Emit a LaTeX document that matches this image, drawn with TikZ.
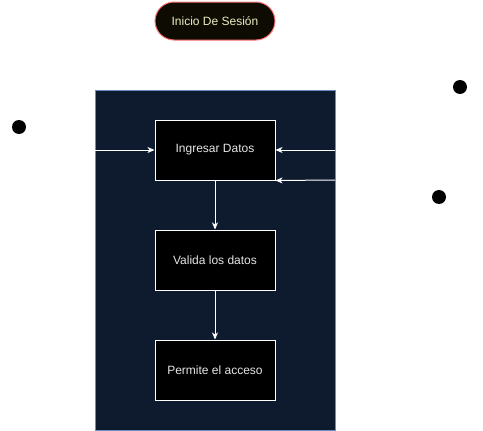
\documentclass[tikz,border=0pt]{standalone}
\usepackage{fontspec}
\setmainfont{Liberation Sans}
\usetikzlibrary{arrows.meta}
\definecolor{contfill}{HTML}{0E1A2E}
\definecolor{contborder}{HTML}{6C8EBF}
\definecolor{pillfill}{HTML}{0D0B02}
\definecolor{pillborder}{HTML}{FF7575}
\definecolor{pilltext}{HTML}{EDEDC2}
\definecolor{boxtext}{HTML}{E6E6E6}
\begin{document}
\begin{tikzpicture}[x=1pt,y=-1pt,
  procbox/.style={draw=white, fill=black, line width=1pt, minimum width=120pt, minimum height=60pt, inner sep=0pt, text=boxtext, font=\fontsize{12}{14}\selectfont},
  pill/.style={draw=pillborder, fill=pillfill, line width=1pt, rounded corners=19pt, minimum width=120pt, minimum height=38pt, inner sep=0pt, text=pilltext, font=\fontsize{12}{14}\selectfont},
  flow/.style={draw=white, line width=1pt, -{Stealth[length=7pt,width=6pt,inset=2pt]}},
  dotmark/.style={circle, fill=black, minimum size=14pt, inner sep=0pt}
]
\useasboundingbox (0,0) rectangle (483,431);
\node[draw=contborder, fill=contfill, line width=1pt, minimum width=240pt, minimum height=340pt, inner sep=0pt] (cont) at (215,260) {};
\node[pill] (inicio) at (215,21) {Inicio De Sesión};
\node[procbox] (ingresar) at (215,150) {Ingresar Datos};
\node[procbox] (valida) at (215,260) {Valida los datos};
\node[procbox] (permite) at (215,370) {Permite el acceso};
\node[dotmark] (d1) at (19,127) {};
\node[dotmark] (d2) at (460,87) {};
\node[dotmark] (d3) at (439,197) {};
\coordinate (inL) at (95,150);
\coordinate (inR) at (335,150);
\coordinate (inR2) at (335,180);
\draw[flow] (inL) -- (ingresar.west);
\draw[flow] (inR) -- (ingresar.east);
\draw[flow] (inR2) -- (ingresar.south east);
\draw[flow] (ingresar.south) -- (valida.north);
\draw[flow] (valida.south) -- (permite.north);
\end{tikzpicture}
\end{document}
